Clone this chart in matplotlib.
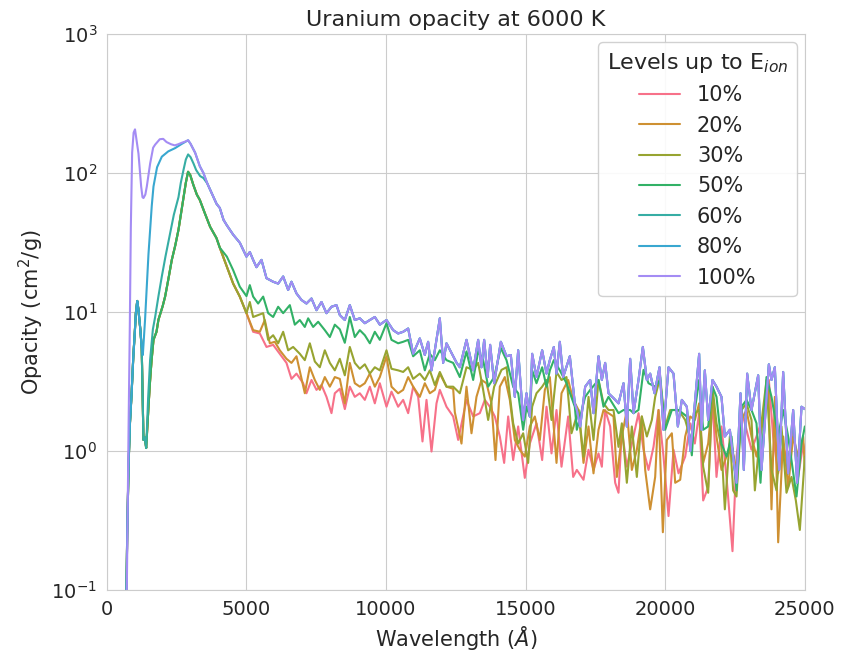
import matplotlib
matplotlib.use("Agg")
import matplotlib.pyplot as plt
import seaborn as sns

sns.set_style("whitegrid")
plt.rcParams.update({
    "font.family": ["DejaVu Sans"],
    "font.size": 14,
    "axes.labelcolor": ".15",
    "text.color": ".15",
    "xtick.color": ".15",
    "ytick.color": ".15",
})

levels = ["10%", "20%", "30%", "50%", "60%", "80%", "100%"]

# steep edge below ~1250 A, common to every level except 100%
rise_wl = [700, 730, 780, 830, 884, 950, 1000, 1040, 1090, 1130, 1200, 1250]
rise_op = [0.08, 0.25, 0.8, 1.6, 2.5, 4.8, 7.0, 9.8, 12.0, 10.5, 7.5, 5.5]

# 10-50%: dip and main peak, identical up to ~4000 A
low_wl = [1313, 1360, 1410, 1460, 1500, 1550, 1600, 1672, 1780, 1850, 2000,
          2088, 2200, 2328, 2450, 2567, 2650, 2746, 2830, 2910, 2985, 3100,
          3223, 3331, 3500, 3700, 3928, 4047]
low_op = [1.2, 1.25, 1.05, 1.6, 2.2, 3.2, 4.4, 6.3, 7.2, 8.8, 11.0,
          12.9, 17.0, 23.7, 30.0, 39.0, 50.0, 67.0, 85.0, 102.0, 97.0, 82.0,
          70.0, 64.0, 52.0, 41.0, 34.0, 29.0]

# 60% peak
teal_wl = [1313, 1360, 1410, 1480, 1550, 1650, 1731, 1850, 1970, 2100, 2268,
           2400, 2567, 2650, 2746, 2830, 2912, 3000, 3105, 3200, 3343, 3460]
teal_op = [1.2, 1.25, 1.05, 2.4, 4.5, 7.5, 9.2, 13.0, 18.0, 25.0, 37.0,
           50.0, 67.0, 85.0, 105.0, 125.0, 136.0, 130.0, 117.0, 105.0, 95.0, 92.0]

# 80% peak
blue_wl = [1290, 1370, 1430, 1492, 1552, 1610, 1672, 1800, 1970, 2200, 2447,
           2686, 2912, 3000, 3163, 3330, 3460]
blue_op = [4.9, 8.8, 15.0, 26.0, 39.0, 58.0, 80.0, 110.0, 131.0, 143.0, 151.0,
           162.0, 172.0, 162.0, 140.0, 112.0, 100.0]

# 100% peak
purple_wl = [700, 716, 780, 824, 860, 907, 960, 1010, 1060, 1134, 1230, 1278,
             1313, 1380, 1433, 1552, 1659, 1731, 1898, 2020, 2138, 2300, 2435,
             2560, 2686, 2800, 2912, 3000, 3163, 3330, 3460]
purple_op = [0.05, 0.1, 1.5, 8.0, 40.0, 140.0, 195.0, 206.0, 175.0, 138.0, 80.0,
             67.0, 66.0, 70.0, 80.0, 117.0, 152.0, 160.0, 175.0, 176.0, 167.0,
             161.0, 158.0, 161.0, 165.0, 168.0, 172.0, 162.0, 140.0, 112.0, 100.0]

# 60-100% coincide past 3600 A
upper_wl = [3600, 3820, 3930, 4047, 4180, 4300, 4525, 4763, 5002, 5122, 5241,
            5360, 5540, 5719, 5957, 6137, 6316, 6495, 6614, 6793, 6972, 7151,
            7331, 7510, 7689, 7868, 8047, 8226, 8345, 8524, 8703, 8882, 9061,
            9241, 9420, 9599, 9778, 10017, 10255, 10434, 10614, 10793, 10972,
            11210, 11390, 11509, 11629, 11748, 11927, 12046, 12166, 12405,
            12530, 12643, 12882, 13121, 13300, 13419, 13515, 13640, 13730,
            13873, 14112, 14315, 14470, 14613, 14733, 14912, 15031, 15151,
            15234, 15389, 15592, 15748, 15867, 16010, 16106, 16225, 16345,
            16583, 16762, 16834, 16954, 17133, 17312, 17431, 17610, 17730,
            17849, 17968, 18148, 18327, 18506, 18625, 18745, 18864, 19043,
            19198, 19342, 19461, 19616, 19795, 19939, 20118, 20297, 20452,
            20595, 20774, 20900, 21060, 21215, 21299, 21418, 21538, 21693,
            21836, 22015, 22135, 22314, 22433, 22553, 22696, 22815, 22935,
            23090, 23329, 23448, 23711, 23806, 23926, 24081, 24224, 24403,
            24582, 24725, 24881, 25000]
upper_op = [84.0, 67.0, 60.0, 56.0, 46.0, 42.0, 36.0, 31.5, 25.0, 27.0, 23.7,
            21.0, 23.7, 17.5, 16.5, 16.0, 18.0, 14.4, 16.5, 13.6, 12.2, 11.5,
            12.5, 10.3, 11.8, 9.8, 10.9, 11.2, 9.5, 8.75, 11.2, 8.75, 9.0,
            8.3, 8.75, 9.2, 8.1, 8.75, 7.4, 7.0, 7.2, 7.6, 5.0,
            6.45, 4.9, 6.1, 3.8, 5.3, 9.0, 4.3, 5.95, 4.8,
            4.3, 4.0, 6.3, 3.8, 6.3, 4.0, 6.3, 3.4, 5.8,
            3.07, 6.1, 4.8, 4.9, 2.45, 5.3, 1.67, 2.6, 1.77,
            5.0, 3.4, 5.3, 3.6, 4.5, 5.6, 3.6, 6.1, 3.4,
            4.8, 2.2, 1.97, 1.5, 2.9, 3.24, 1.87, 4.8, 3.24,
            4.3, 2.6, 2.4, 2.2, 3.07, 1.5, 4.6, 1.87, 3.24,
            5.6, 3.24, 3.6, 2.6, 4.0, 1.42, 4.0, 3.6, 1.5,
            2.33, 2.08, 1.0, 2.2, 5.0, 1.42, 3.8, 1.67, 3.24,
            2.9, 2.45, 1.27, 1.42, 0.91, 0.59, 2.6, 0.73, 3.6,
            1.97, 3.5, 0.73, 4.2, 3.24, 4.0, 0.73, 3.7, 0.69,
            1.97, 0.59, 2.08, 2.0]

# 50% past the peak
tail50_wl = [4300, 4525, 4763, 5002, 5122, 5241, 5420, 5600, 5780, 5957, 6137,
             6316, 6555, 6733, 6912, 7091, 7211, 7390, 7570, 7808, 7988, 8166,
             8345, 8524, 8703, 8882, 9061, 9241, 9420, 9599, 9778, 10017, 10196,
             10434, 10614, 10793, 10972, 11210, 11390, 11569, 11748, 11927,
             12166, 12405, 12643, 12882, 13121, 13300, 13479, 13658, 13873,
             14112, 14315, 14554, 14733, 14912, 15031, 15151, 15234, 15389,
             15592, 15748, 15867, 16010, 16225, 16464, 16762, 16834, 17133,
             17312, 17610, 17789, 17968, 18327, 18506, 18745, 18864, 19043,
             19222, 19401, 19640, 19819, 19998, 20237, 20476, 20774, 20953,
             21060, 21215, 21359, 21538, 21693, 21836, 22015, 22194, 22374,
             22553, 22732, 22911, 23090, 23269, 23412, 23627, 23806, 24045,
             24224, 24403, 24702, 24881, 25000]
tail50_op = [25.0, 20.0, 15.2, 13.0, 15.6, 12.9, 11.5, 12.9, 9.8, 9.2, 10.9,
             9.8, 11.2, 8.1, 8.75, 7.8, 9.0, 7.8, 8.5, 7.4, 6.6, 8.1,
             7.5, 6.0, 9.2, 6.6, 7.4, 6.8, 5.95, 7.2, 6.3, 8.3, 6.3,
             5.95, 6.1, 6.3, 4.8, 5.3, 3.8, 5.0, 4.5, 5.3,
             4.5, 4.3, 3.4, 5.2, 3.24, 5.2, 4.5, 2.9, 3.4,
             5.5, 4.5, 2.9, 2.6, 1.42, 2.08, 1.77, 3.8, 3.07,
             4.0, 2.9, 3.8, 4.5, 3.8, 3.07, 2.08, 1.42, 2.45,
             2.75, 3.24, 2.08, 2.45, 1.87, 1.97, 1.97, 1.87, 1.97,
             3.83, 3.07, 2.9, 3.24, 1.42, 1.97, 1.97, 1.77, 0.93,
             1.97, 3.24, 1.42, 1.5, 2.9, 2.45, 1.13, 0.91, 1.27,
             0.52, 2.08, 2.33, 1.97, 1.58, 0.59, 3.4, 2.45, 1.27,
             1.97, 1.27, 0.47, 1.13, 1.5]

# 30% past the peak
tail30_wl = [4525, 4763, 5002, 5122, 5241, 5420, 5600, 5778, 5957, 6137, 6316,
             6495, 6674, 6913, 7091, 7271, 7450, 7629, 7808, 7988, 8166, 8345,
             8524, 8703, 8882, 9061, 9241, 9420, 9599, 9778, 10017, 10196,
             10434, 10614, 10793, 10972, 11210, 11390, 11569, 11748, 11927,
             12166, 12405, 12643, 12882, 13121, 13300, 13479, 13658, 13873,
             14136, 14315, 14554, 14733, 14912, 15091, 15234, 15389, 15592,
             15748, 15927, 16106, 16285, 16464, 16643, 16894, 17073, 17252,
             17431, 17610, 17789, 17968, 18148, 18327, 18446, 18625, 18804,
             18983, 19162, 19342, 19521, 19640, 19819, 19998, 20177, 20476,
             20715, 20953, 21060, 21215, 21359, 21538, 21693, 21836, 22015,
             22135, 22314, 22433, 22553, 22732, 22911, 23090, 23210, 23389,
             23627, 23806, 23985, 24164, 24343, 24522, 24678, 24821, 25000]
tail30_op = [16.0, 12.9, 9.8, 11.8, 9.2, 9.5, 9.8, 6.3, 6.8, 5.95, 7.2,
             5.3, 5.6, 5.0, 4.5, 5.95, 4.4, 4.0, 5.3, 4.3, 3.8, 4.6,
             3.5, 5.6, 4.3, 3.9, 4.2, 3.6, 4.0, 3.8, 5.3, 3.9,
             3.8, 3.7, 4.0, 3.3, 3.6, 3.24, 3.8, 2.98, 3.7,
             2.9, 2.9, 2.6, 4.0, 3.83, 4.3, 2.75, 1.67, 2.9,
             3.83, 4.0, 1.58, 1.13, 1.34, 0.82, 2.08, 2.6, 2.9,
             3.24, 1.67, 3.7, 3.24, 3.4, 1.34, 1.97, 0.91, 2.45,
             1.2, 3.24, 2.2, 1.97, 1.97, 1.07, 1.58, 0.59, 1.5,
             0.65, 1.77, 1.27, 1.67, 2.45, 3.4, 1.5, 1.97, 1.97,
             1.67, 1.13, 1.87, 1.97, 0.77, 0.50, 2.9, 1.58, 1.07,
             0.38, 1.27, 0.52, 0.47, 1.97, 2.2, 1.67, 0.52, 1.27,
             3.24, 0.73, 0.52, 1.5, 0.50, 0.65, 0.44, 0.27, 0.91]

# 20% past the peak
tail20_wl = [4525, 4763, 5002, 5241, 5480, 5659, 5838, 6017, 6196, 6435, 6614,
             6793, 7092, 7271, 7450, 7629, 7808, 7988, 8166, 8345, 8525, 8703,
             8882, 9061, 9241, 9420, 9599, 9778, 10017, 10196, 10434, 10614,
             10793, 10972, 11210, 11390, 11569, 11748, 11927, 12166, 12405,
             12464, 12703, 12882, 13061, 13240, 13419, 13598, 13777, 13921,
             14076, 14255, 14434, 14613, 14792, 14971, 15151, 15330, 15509,
             15688, 15867, 16106, 16285, 16524, 16703, 16894, 17073, 17252,
             17431, 17610, 17789, 17968, 18148, 18267, 18446, 18625, 18804,
             18983, 19162, 19282, 19461, 19640, 19760, 19915, 20058, 20237,
             20357, 20536, 20715, 20894, 21060, 21215, 21359, 21538, 21693,
             21836, 22015, 22194, 22374, 22553, 22732, 22911, 23090, 23269,
             23448, 23687, 23806, 23926, 24045, 24224, 24403, 24582, 24761,
             24941, 25000]
tail20_op = [16.0, 12.9, 9.8, 7.4, 7.2, 8.75, 5.95, 6.1, 5.3, 4.6, 4.3,
             4.8, 2.6, 4.0, 3.24, 2.75, 3.4, 2.9, 3.4, 3.3, 2.2, 4.3,
             3.07, 2.9, 3.07, 3.6, 2.9, 3.4, 4.8, 2.9, 2.6, 2.75,
             3.4, 2.9, 2.45, 3.07, 2.6, 2.75, 3.6, 2.9, 2.8,
             1.9, 1.13, 2.9, 1.34, 2.45, 3.24, 3.07, 2.2, 0.86,
             2.9, 3.4, 2.33, 1.2, 1.02, 0.91, 1.5, 1.77, 1.2,
             2.75, 3.4, 0.82, 2.6, 3.24, 2.33, 1.97, 0.82, 1.5,
             0.69, 1.42, 1.97, 1.87, 1.77, 0.65, 1.27, 1.97, 0.73,
             1.02, 1.77, 0.73, 0.38, 0.65, 1.97, 0.26, 1.2, 1.34,
             0.59, 0.62, 1.27, 1.77, 1.67, 2.2, 0.82, 1.13, 2.45,
             1.27, 0.73, 0.91, 1.07, 0.73, 1.67, 1.97, 1.27, 0.91,
             1.42, 3.24, 0.38, 2.45, 0.22, 1.27, 0.55, 1.27, 0.91,
             1.27, 0.75]

# 10% past the peak
tail10_wl = [4525, 4763, 5002, 5241, 5480, 5719, 5957, 6196, 6435, 6614, 6793,
             7032, 7151, 7331, 7510, 7689, 7868, 8047, 8166, 8345, 8525, 8703,
             8882, 9061, 9241, 9420, 9599, 9778, 10017, 10196, 10434, 10614,
             10793, 10972, 11151, 11306, 11450, 11629, 11808, 11927, 12166,
             12405, 12584, 12882, 13121, 13360, 13539, 13718, 13897, 14076,
             14231, 14375, 14554, 14733, 14971, 15151, 15389, 15592, 15748,
             15927, 16106, 16285, 16524, 16703, 16834, 17073, 17252, 17431,
             17610, 17730, 17849, 18028, 18207, 18327, 18446, 18625, 18804,
             19043, 19222, 19401, 19580, 19760, 19939, 20118, 20297, 20476,
             20715, 20894, 21060, 21215, 21359, 21538, 21693, 21836, 22015,
             22194, 22409, 22553, 22732, 22911, 23090, 23269, 23508, 23711,
             23866, 24045, 24224, 24403, 24582, 24761, 24941, 25000]
tail10_op = [16.0, 12.9, 9.8, 7.2, 7.0, 5.6, 5.8, 5.0, 4.3, 3.3, 3.6,
             3.07, 2.6, 3.24, 2.75, 2.98, 2.45, 1.87, 2.6, 2.8, 2.0, 2.9,
             2.45, 2.6, 2.33, 2.9, 2.2, 3.07, 2.08, 2.67, 2.08, 2.33,
             1.87, 2.9, 2.45, 1.17, 2.33, 0.99, 2.2, 2.75, 2.08,
             1.77, 1.2, 2.33, 1.77, 1.87, 2.33, 2.08, 1.77, 1.27,
             0.82, 1.77, 0.86, 1.5, 0.64, 1.13, 1.58, 0.86, 2.08,
             0.96, 1.97, 0.77, 1.77, 0.65, 0.73, 0.62, 1.02, 0.73,
             0.96, 0.77, 1.97, 1.5, 0.59, 0.50, 1.42, 0.77, 1.13,
             1.87, 1.02, 0.73, 1.07, 1.97, 0.91, 0.34, 1.02, 0.69,
             0.91, 1.58, 1.13, 1.87, 0.44, 0.55, 2.45, 0.65, 1.5,
             0.65, 0.19, 0.91, 1.97, 1.42, 1.02, 1.27, 1.77, 3.24,
             1.27, 0.69, 1.07, 0.82, 1.42, 0.65, 1.13, 1.0]

spectra = {
    "10%": (rise_wl + low_wl + tail10_wl, rise_op + low_op + tail10_op),
    "20%": (rise_wl + low_wl + tail20_wl, rise_op + low_op + tail20_op),
    "30%": (rise_wl + low_wl + tail30_wl, rise_op + low_op + tail30_op),
    "50%": (rise_wl + low_wl + tail50_wl, rise_op + low_op + tail50_op),
    "60%": (rise_wl + teal_wl + upper_wl, rise_op + teal_op + upper_op),
    "80%": (rise_wl + blue_wl + upper_wl, rise_op + blue_op + upper_op),
    "100%": (purple_wl + upper_wl, purple_op + upper_op),
}

colors = sns.husl_palette(8)[:7]

fig = plt.figure(figsize=(8.41, 6.54), dpi=100)
ax = fig.add_axes([0.127, 0.098, 0.830, 0.850])

for lev, col in zip(levels, colors):
    wl, op = spectra[lev]
    ax.plot(wl, op, color=col, lw=1.5, label=lev)

ax.set_yscale("log")
ax.set_xlim(0, 25000)
ax.set_ylim(0.1, 1000)
ax.set_xticks([0, 5000, 10000, 15000, 20000, 25000])
ax.tick_params(axis="both", labelsize=14)
ax.minorticks_off()
for sp in ax.spines.values():
    sp.set_edgecolor(".8")

ax.set_xlabel("Wavelength ($Å$)", fontsize=15)
ax.set_ylabel("Opacity (cm$^2$/g)", fontsize=15)
ax.set_title("Uranium opacity at 6000 K", fontsize=16)

leg = ax.legend(title="Levels up to E$_{ion}$", loc="upper right",
                fontsize=15, title_fontsize=16, handlelength=2.0,
                framealpha=0.9, borderaxespad=0.4)
leg.get_frame().set_edgecolor(".8")

fig.savefig("out.png", dpi=100)
